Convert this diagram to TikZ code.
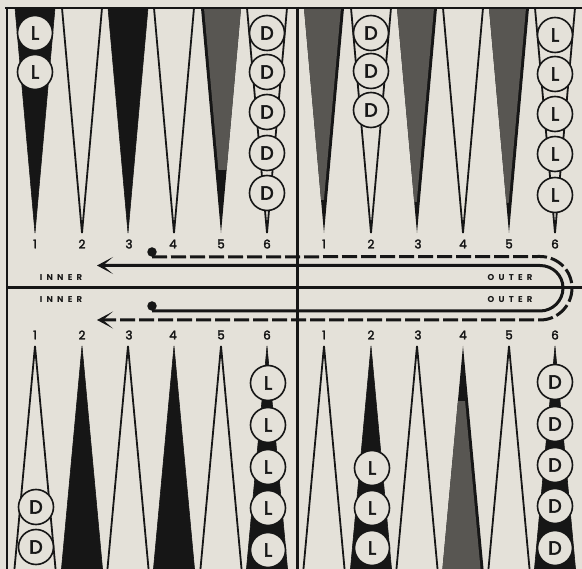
\documentclass[tikz,border=0pt]{standalone}
\usepackage{fontspec}
\newfontfamily\chk{Poppins}[FakeBold=3]
\newfontfamily\numf{Poppins}[FakeBold=2.5]
\newfontfamily\lblf{Poppins}[LetterSpace=50]
\usetikzlibrary{arrows.meta}
\definecolor{paper}{RGB}{228,225,217}
\definecolor{ink}{RGB}{22,22,22}
\definecolor{dgray}{RGB}{88,86,82}
\tikzset{
  whitetri/.style={fill=paper,draw=ink,line width=1.8pt,line join=miter},
  blacktri/.style={fill=ink,draw=ink,line width=0.6pt},
  checker/.style={circle,draw=ink,fill=paper,line width=1.6pt,minimum size=35pt,inner sep=0pt,font=\chk\fontsize{19}{19}\selectfont,text=ink},
  numlbl/.style={font=\numf\fontsize{12}{12}\selectfont,text=ink,inner sep=0pt},
  sidelbl/.style={font=\lblf\bfseries\fontsize{8.5}{9}\selectfont,text=ink,inner sep=0pt},
  frameline/.style={draw=ink,line width=2.2pt},
  barline/.style={draw=ink,line width=3pt},
  solidarrow/.style={draw=ink,line width=3pt,-{Stealth[length=16pt,width=17pt,inset=10pt]}},
  dasharrow/.style={solidarrow,dash pattern=on 15pt off 4pt},
  startdot/.style={circle,fill=ink,minimum size=9.5pt,inner sep=0pt},
}
\begin{document}
\begin{tikzpicture}[x=1pt,y=-1pt]
\useasboundingbox (0,0) rectangle (582,569);
\fill[paper] (0,0) rectangle (582,569);
\clip (0,0) rectangle (582,569);
% ---- top triangles
\foreach \x in {35,128}
  \path[blacktri] ({\x-20},8) -- (\x,233) -- ({\x+20},8) -- cycle;
\foreach \x in {82,174,267,371,463,555}
  \path[whitetri] ({\x-20},8) -- (\x,233) -- ({\x+20},8) -- cycle;
\foreach \x/\s/\c in {221/3/170,324/-3/200,417/-3/202,509/-3/203}{
  \begin{scope}
    \clip ({\x-20},8) -- (\x,233) -- ({\x+20},8) -- cycle;
    \fill[ink] ({\x-22},6) rectangle ({\x+22},236);
    \clip ({\x-30},0) rectangle ({\x+30},\c);
    \fill[dgray] ({\x-20+\s},8) -- ({\x+\s},233) -- ({\x+20+\s},8) -- cycle;
  \end{scope}
}
% ---- bottom triangles
\foreach \x in {35,128,221,324,417,509}
  \path[whitetri] ({\x-21},574) -- (\x,346) -- ({\x+21},574) -- cycle;
\foreach \x in {82,174,267,371,555}
  \path[blacktri] ({\x-21},574) -- (\x,346) -- ({\x+21},574) -- cycle;
\foreach \x/\s/\c in {463/-3/402}{
  \begin{scope}
    \clip ({\x-21},574) -- (\x,346) -- ({\x+21},574) -- cycle;
    \fill[ink] ({\x-23},340) rectangle ({\x+23},576);
    \clip ({\x-30},\c) rectangle ({\x+30},576);
    \fill[dgray] ({\x-21+\s},574) -- ({\x+\s},346) -- ({\x+21+\s},574) -- cycle;
  \end{scope}
}
% ---- frame
\draw[frameline] (5,8) -- (582,8);
\draw[frameline] (7,7) -- (7,569);
\draw[barline] (297,7) -- (297,569);
\draw[barline] (6,288) -- (582,288);
% ---- checkers
\foreach \y [count=\i] in {33,72} \node[checker] (tlA\i) at (35,\y) {L};
\foreach \y [count=\i] in {33,72,112,153,193} \node[checker] (tlF\i) at (267,\y) {D};
\foreach \y [count=\i] in {33,71,110} \node[checker] (trB\i) at (371,\y) {D};
\foreach \y [count=\i] in {35,74,114,154,195} \node[checker] (trF\i) at (555,\y) {L};
\foreach \y [count=\i] in {507,547} \node[checker] (blA\i) at (36,\y) {D};
\foreach \y [count=\i] in {383,425,467,508,550} \node[checker] (blF\i) at (268,\y) {L};
\foreach \y [count=\i] in {468,508,548} \node[checker] (brB\i) at (372,\y) {L};
\foreach \y [count=\i] in {382,424,465,506,548} \node[checker] (brF\i) at (555,\y) {D};
% ---- numbers
\foreach \x [count=\i] in {35,82,129,173,221,267,324,371,418,463,509,555}{
  \pgfmathtruncatemacro{\n}{mod(\i-1,6)+1}
  \node[numlbl] (ntop\i) at (\x,244) {\n};
  \node[numlbl] (nbot\i) at (\x,335) {\n};
}
% ---- labels
\node[sidelbl] (inA) at (61,277.5) {INNER};
\node[sidelbl] (inB) at (61,300) {INNER};
\node[sidelbl] (outA) at (510,277.5) {OUTER};
\node[sidelbl] (outB) at (510,300) {OUTER};
% ---- moves
\node[startdot] (dotA) at (152,252) {};
\node[startdot] (dotB) at (152,306) {};
\coordinate (endA) at (97,320);
\coordinate (endB) at (97,265.5);
\draw[dasharrow] (dotA.south) -- (540,256.5)
  .. controls (557.7,256.5) and (572,270.3) .. (572,288)
  .. controls (572,305.7) and (557.7,320) .. (540,320) -- (endA);
\draw[solidarrow] (dotB.south) -- (540,311)
  .. controls (552.7,311) and (563,300.7) .. (563,288)
  .. controls (563,275.3) and (552.7,265.5) .. (540,265.5) -- (endB);
\end{tikzpicture}
\end{document}
